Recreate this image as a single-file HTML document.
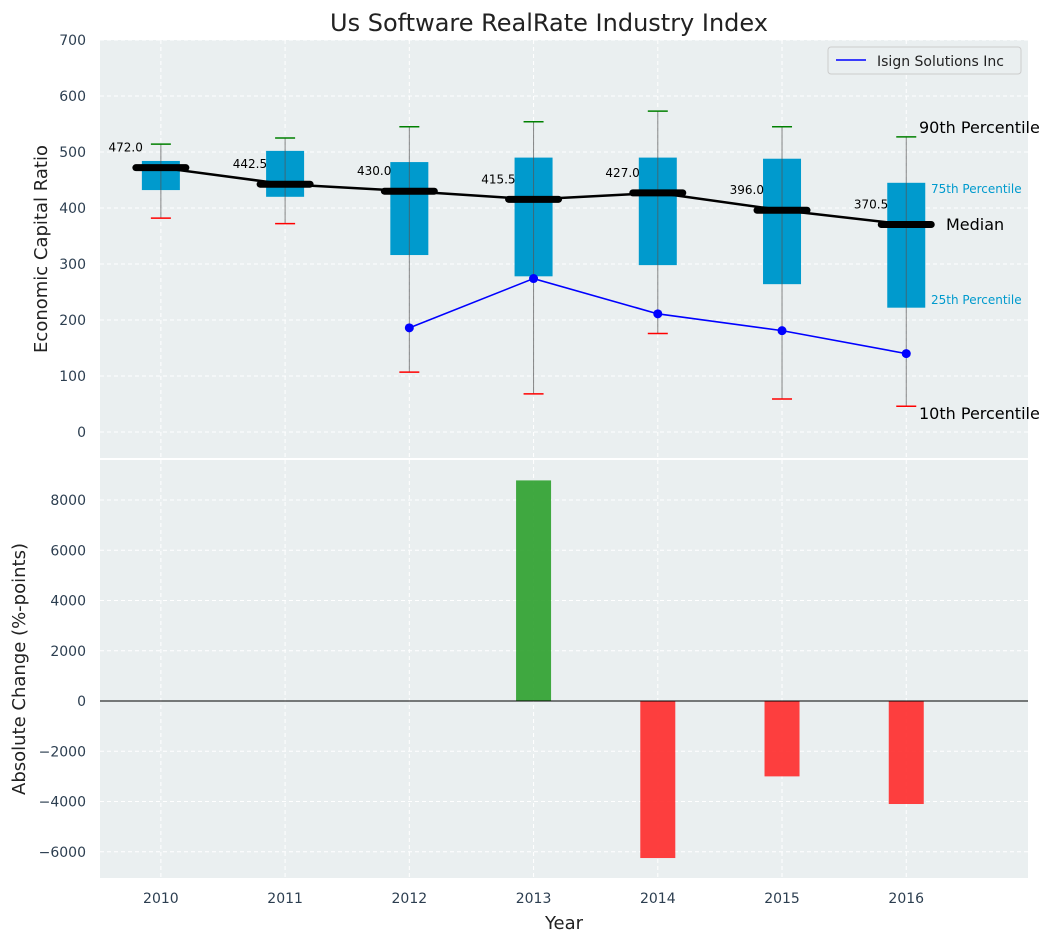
<!DOCTYPE html>
<html><head><meta charset="utf-8"><style>
body{margin:0;background:#fff;font-family:"Liberation Sans","DejaVu Sans",sans-serif}
svg text{font-family:"DejaVu Sans","Liberation Sans",sans-serif}
</style></head><body>
<svg id="c" width="1054" height="942" xmlns="http://www.w3.org/2000/svg"></svg>
<script>
const years=[2010,2011,2012,2013,2014,2015,2016];
const p10=[382,372,107,68,176,59,46];
const p25=[432,420,316,278,298,264,222];
const p75=[484,502,482,490,490,488,445];
const p90=[514,525,545,554,573,545,527];
const medians=[472,442.5,430,415.5,427,396,370.5];
const compYears=[2012,2013,2014,2015,2016];
const compVals=[186,274,211,181,140];
const changes=[0,0,0,8780,-6250,-3000,-4100];
const yTicksTop=[0,100,200,300,400,500,600,700];
const yTicksBot=[-6000,-4000,-2000,0,2000,4000,6000,8000];

const NS='http://www.w3.org/2000/svg';
const svg=document.getElementById('c');
function el(t,a,txt,p){const e=document.createElementNS(NS,t);for(const k in a)e.setAttribute(k,a[k]);if(txt!=null)e.textContent=txt;(p||svg).appendChild(e);return e;}
const L=100,R=1028;
const x=v=>L+(v-2009.51)*(R-L)/(16.98-9.51);
const yT=v=>432-v*0.56;
const yB=v=>701-v*0.025125;

// backgrounds
let e;
e=el('rect',{x:L,y:40,width:R-L,height:418,fill:'#eaeff0'});


e=el('rect',{x:L,y:460,width:R-L,height:418,fill:'#eaeff0'});



// grid
years.forEach(yr=>{
 el('line',{x1:x(yr),x2:x(yr),y1:40,y2:458,stroke:'#fff','stroke-dasharray':'4,3'});
 el('line',{x1:x(yr),x2:x(yr),y1:460,y2:878,stroke:'#fff','stroke-dasharray':'4,3'});
 e=el('text',{x:x(yr),y:903,'text-anchor':'middle','font-size':14,fill:'#2c3e50'},yr);
 
 
});
yTicksTop.forEach(v=>{
 el('line',{x1:L,x2:R,y1:yT(v),y2:yT(v),stroke:'#fff','stroke-dasharray':'4,3'});
 e=el('text',{x:86,y:yT(v)+5,'text-anchor':'end','font-size':14,fill:'#2c3e50'},v);
 
 
});
yTicksBot.forEach(v=>{
 el('line',{x1:L,x2:R,y1:yB(v),y2:yB(v),stroke:'#fff','stroke-dasharray':'4,3'});
 e=el('text',{x:86,y:yB(v)+5,'text-anchor':'end','font-size':14,fill:'#2c3e50'},v<0?'\u2212'+(-v):v);
 
 
});

// boxes
years.forEach((yr,i)=>{
 const cx=x(yr);
 e=el('rect',{x:cx-19,y:yT(p75[i]),width:38,height:yT(p25[i])-yT(p75[i]),fill:'#009acd'});
 
 
 e=el('line',{x1:cx,x2:cx,y1:yT(p10[i]),y2:yT(p90[i]),stroke:'#555','stroke-width':1,opacity:0.7});
 
 
 el('line',{x1:cx-10,x2:cx+10,y1:yT(p90[i]),y2:yT(p90[i]),stroke:'green','stroke-width':1.5});
 el('line',{x1:cx-10,x2:cx+10,y1:yT(p10[i]),y2:yT(p10[i]),stroke:'red','stroke-width':1.5});
});
// median line
e=el('polyline',{points:years.map((yr,i)=>x(yr)+','+yT(medians[i])).join(' '),fill:'none',stroke:'#000','stroke-width':2.5});


years.forEach((yr,i)=>{
 const cx=x(yr),cy=yT(medians[i]);
 el('line',{x1:cx-25,x2:cx+25,y1:cy,y2:cy,stroke:'#000','stroke-width':7,'stroke-linecap':'round'});
 e=el('text',{x:cx-18,y:cy-16,'text-anchor':'end','font-size':12,fill:'#000'},medians[i].toFixed(1));
 
 
});
// company line
e=el('polyline',{points:compYears.map((yr,i)=>x(yr)+','+yT(compVals[i])).join(' '),fill:'none',stroke:'blue','stroke-width':1.6});


compYears.forEach((yr,i)=>{
 e=el('circle',{cx:x(yr),cy:yT(compVals[i]),r:4.5,fill:'blue'});
 
 
});
// annotations
[['90th Percentile',919,133,16,'#000'],['75th Percentile',931,193,12,'#009acd'],['Median',946,230,16,'#000'],['25th Percentile',931,304,12,'#009acd'],['10th Percentile',919,419,16,'#000']].forEach(a=>{
 e=el('text',{x:a[1],y:a[2],'font-size':a[3],fill:a[4]},a[0]);
 
 
});
// legend
const lg=el('g',{});


el('rect',{x:828,y:47,width:193,height:27,rx:3,fill:'#eaeff0',stroke:'#ccc'},null,lg);
el('line',{x1:836,x2:866,y1:60,y2:60,stroke:'blue','stroke-width':1.6},null,lg);
el('text',{x:877,y:66,'font-size':14,fill:'#222'},'Isign Solutions Inc',lg);

// bars
years.forEach((yr,i)=>{
 const v=changes[i]; if(v===0)return;
 const y0=yB(Math.max(v,0)),y1=yB(Math.min(v,0));
 e=el('rect',{x:x(yr)-17.5,y:y0,width:35,height:y1-y0,fill:v>0?'#2ca02c':'#ff2a2a',opacity:0.9});
 
 
});
el('line',{x1:L,x2:R,y1:yB(0),y2:yB(0),stroke:'#000','stroke-width':1});

// titles
e=el('text',{x:549,y:31,'text-anchor':'middle','font-size':24,fill:'#222'},'Us Software RealRate Industry Index');


e=el('text',{x:47,y:249,'text-anchor':'middle','font-size':18,fill:'#222',transform:'rotate(-90 47 249)'},'Economic Capital Ratio');


e=el('text',{x:25,y:669,'text-anchor':'middle','font-size':18,fill:'#222',transform:'rotate(-90 25 669)'},'Absolute Change (%-points)');


e=el('text',{x:564,y:929,'text-anchor':'middle','font-size':18,fill:'#222'},'Year');


</script>
</body></html>
